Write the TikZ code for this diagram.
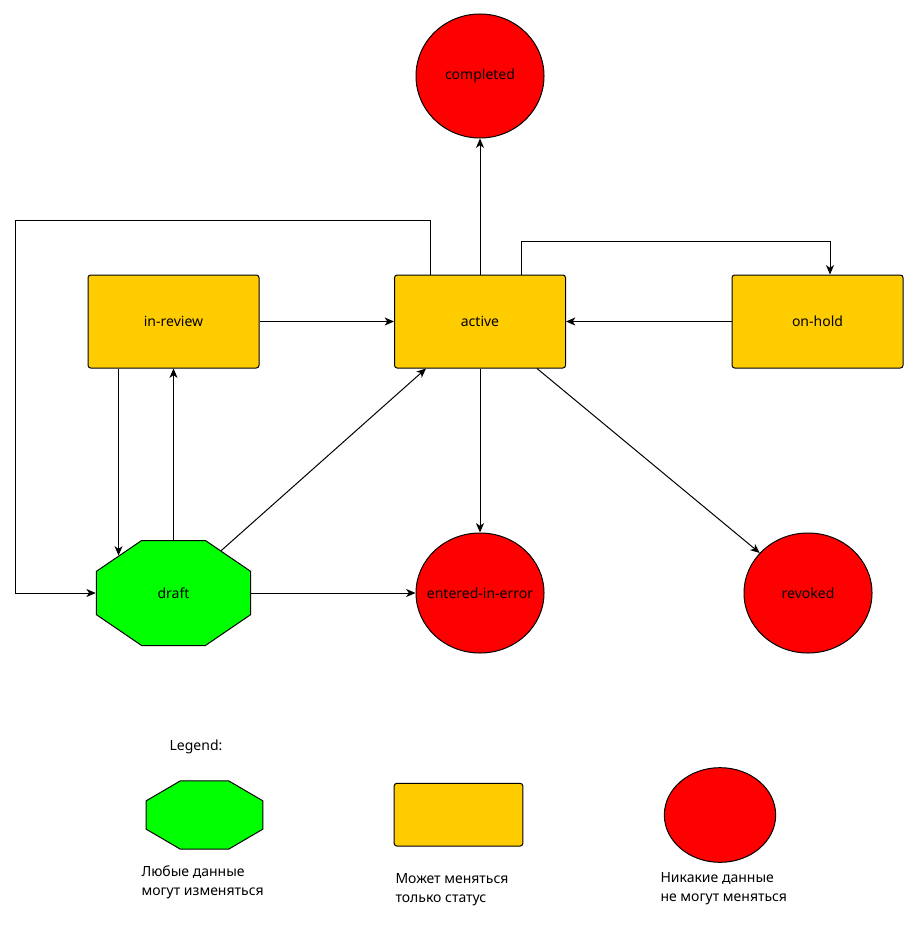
\documentclass[tikz,border=0pt]{standalone}
\usepackage{fontspec}
\setmainfont{Noto Sans}
\usetikzlibrary{positioning}
\usetikzlibrary{shapes.geometric}
\usetikzlibrary{arrows.meta}
\definecolor{statusyellow}{HTML}{FFCC00}
\definecolor{freegreen}{HTML}{00FF00}

\begin{document}
\begin{tikzpicture}[x=0.75pt,y=-0.75pt,line width=0.75pt,
		font=\fontsize{10.5pt}{12.6pt}\selectfont,
		>={Stealth[length=7pt,width=6pt,inset=2pt]},
		status/.style={draw,rectangle,rounded corners=2pt,fill=statusyellow,minimum width=128.25pt,minimum height=69.75pt,inner sep=0pt},
		final/.style={draw,ellipse,fill=red,inner sep=0pt},
		free/.style={draw,regular polygon,regular polygon sides=8,fill=freegreen,inner sep=0pt,transform shape},
		note/.style={anchor=north west,inner sep=0pt,align=left,font=\fontsize{10.5pt}{14.6pt}\selectfont}]
		\useasboundingbox (0,0) rectangle (918,941);
		\node[final,minimum width=96pt,minimum height=93pt] (c) at (480,76) {completed};
		\node[status] (r) at (173.5,321.5) {in-review};
		\node[status] (a) at (480,321.5) {active};
		\node[status] (h) at (817.5,321.5) {on-hold};
		\begin{scope}[shift={(173.5,593)},xscale=1.4667]
			\node[free,minimum size=85.25pt] (d) at (0,0) {};
		\end{scope}
		\node (dl) at (d) {draft};
		\node[final,minimum width=96pt,minimum height=90pt] (e) at (480,593) {\makebox[0pt]{entered-in-error}};
		\node[final,minimum width=96pt,minimum height=90pt] (v) at (808,593) {revoked};
		% legend
		\node (lg) at (196,747) {Legend:};
		\begin{scope}[shift={(204.5,815)},xscale=1.709]
			\node[free,minimum size=55.45pt] (l1) at (0,0) {};
		\end{scope}
		\node[status,minimum width=96.5pt,minimum height=47pt] (l2) at (458.5,814.7) {};
		\node[final,minimum width=83.5pt,minimum height=71pt] (l3) at (720,815) {};
		\node[note] (t1) at (141,865) {Любые данные\\могут изменяться};
		\node[note] (t2) at (395,873) {Может меняться\\только статус};
		\node[note] (t3) at (660,872) {Никакие данные\\не могут меняться};
		% transitions
		\coordinate (l) at (15,221);
		\coordinate (u) at (830,241);
		\draw[->] (r) -- (a);
		\draw[->] (h) -- (a);
		\draw[->] (a) -- (c);
		\draw[->] (a) -- (e);
		\draw[->] ([xshift=-21.75pt]a.south east) -- (v);
		\draw[->] (d) -- ([xshift=24pt]a.south west);
		\draw[->] (d) -- (e);
		\draw[->] (d.north) -- (d.north |- r.south);
		\draw[->] (r.south -| d.135) -- (d.135);
		\draw[->] ([xshift=-37.1pt]a.north) |- (l) |- (d.west);
		\draw[->] ([xshift=31.1pt]a.north) |- (u) -- (u |- h.north);
	\end{tikzpicture}
\end{document}
